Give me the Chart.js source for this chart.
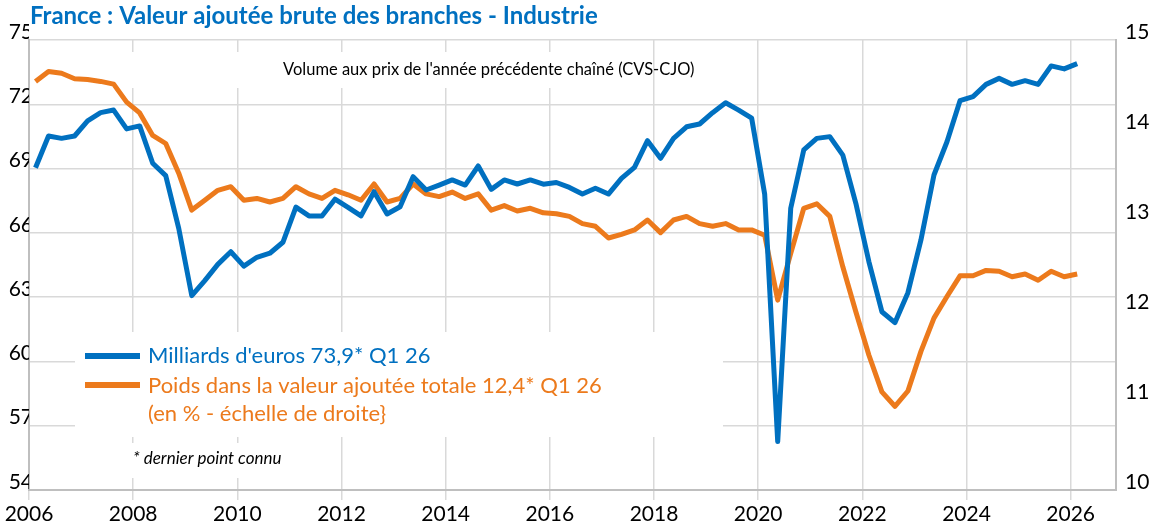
<!DOCTYPE html>
<html>
<head>
<meta charset="utf-8">
<script src="https://cdn.jsdelivr.net/npm/chart.js@4.4.1/dist/chart.umd.min.js"></script>
<style>
  body { margin: 0; background: #fff; }
  #wrap { width: 1165px; height: 530px; }
</style>
</head>
<body>
<div id="wrap"><canvas id="chart" width="1165" height="530"></canvas></div>
<script>
// quarterly series, 2006 Q1 -> 2026 Q1
const firstYear = 2006;

const milliards = [
  69.04, 70.52, 70.41, 70.52, 71.23, 71.61, 71.73, 70.85, 70.99, 69.25,
  68.67, 66.21, 63.07, 63.77, 64.53, 65.12, 64.45, 64.86, 65.05, 65.56,
  67.20, 66.79, 66.79, 67.57, 67.19, 66.79, 67.92, 66.88, 67.22, 68.62,
  68.00, 68.23, 68.47, 68.23, 69.12, 68.03, 68.47, 68.28, 68.47, 68.27,
  68.35, 68.12, 67.81, 68.08, 67.81, 68.54, 69.06, 70.30, 69.48, 70.41,
  70.95, 71.08, 71.61, 72.07, 71.73, 71.35, 67.80, 56.26, 67.15, 69.87,
  70.41, 70.49, 69.63, 67.38, 64.66, 62.32, 61.81, 63.21, 65.67, 68.70,
  70.25, 72.17, 72.36, 72.93, 73.21, 72.93, 73.10, 72.93, 73.79, 73.65,
  73.90
];

const poids = [
  14.54, 14.65, 14.63, 14.57, 14.56, 14.54, 14.51, 14.31, 14.19, 13.94,
  13.85, 13.52, 13.11, 13.22, 13.33, 13.37, 13.22, 13.24, 13.20, 13.24,
  13.37, 13.29, 13.24, 13.33, 13.28, 13.22, 13.40, 13.20, 13.24, 13.40,
  13.29, 13.26, 13.31, 13.24, 13.29, 13.11, 13.16, 13.10, 13.13, 13.08,
  13.07, 13.04, 12.96, 12.93, 12.80, 12.84, 12.89, 13.00, 12.86, 13.00,
  13.04, 12.96, 12.93, 12.96, 12.89, 12.89, 12.83, 12.11, 12.63, 13.13,
  13.18, 13.04, 12.48, 11.98, 11.50, 11.09, 10.93, 11.10, 11.54, 11.91,
  12.15, 12.38, 12.38, 12.44, 12.43, 12.37, 12.40, 12.33, 12.43, 12.37,
  12.40
];

const xTicks = [2006, 2008, 2010, 2012, 2014, 2016, 2018, 2020, 2022, 2024, 2026];
const leftTicks = [54, 57, 60, 63, 66, 69, 72, 75];
const rightTicks = [10, 11, 12, 13, 14, 15];

const BLUE = '#0070C0';
const ORANGE = '#EC7A1C';
const FONT = 'Lato, "Liberation Sans", sans-serif';

// each quarter sits in the middle of its three months
function toPoints(values) {
  return values.map((v, i) => ({ x: firstYear + (i + 0.5) / 4, y: v }));
}

const annotations = {
  id: 'annotations',
  beforeDatasetsDraw(chart) {
    const ctx = chart.ctx;
    ctx.save();
    ctx.fillStyle = '#fff';
    ctx.fillRect(120, 52, 480, 36);   // subtitle box
    ctx.fillRect(75, 332, 648, 105);  // legend box
    ctx.fillRect(125, 443, 175, 35);  // footnote box
    ctx.restore();
  },
  afterDatasetsDraw(chart) {
    const ctx = chart.ctx;
    ctx.save();
    ctx.textBaseline = 'middle';

    ctx.fillStyle = BLUE;
    ctx.font = 'bold 24px ' + FONT;
    ctx.fillText('France : Valeur ajoutée brute des branches - Industrie', 30, 16);

    ctx.fillStyle = '#000';
    ctx.font = '16.5px ' + FONT;
    ctx.fillText("Volume aux prix de l'année précédente chaîné (CVS-CJO)", 283, 70);

    ctx.font = 'italic 17px ' + FONT;
    ctx.fillText('* dernier point connu', 133, 459);

    ctx.lineWidth = 6;
    ctx.strokeStyle = BLUE;
    ctx.beginPath(); ctx.moveTo(85, 356); ctx.lineTo(140, 356); ctx.stroke();
    ctx.strokeStyle = ORANGE;
    ctx.beginPath(); ctx.moveTo(85, 385); ctx.lineTo(140, 385); ctx.stroke();

    ctx.font = '22px ' + FONT;
    ctx.fillStyle = BLUE;
    ctx.fillText("Milliards d'euros 73,9* Q1 26", 148, 356);
    ctx.fillStyle = ORANGE;
    ctx.fillText('Poids dans la valeur ajoutée totale 12,4* Q1 26', 148, 386);
    ctx.fillText('(en % - échelle de droite}', 148, 414);
    ctx.restore();
  }
};

new Chart(document.getElementById('chart'), {
  type: 'line',
  data: {
    datasets: [
      {
        label: "Milliards d'euros",
        data: toPoints(milliards),
        yAxisID: 'y',
        borderColor: BLUE,
        borderWidth: 5,
        pointRadius: 0,
        tension: 0,
        borderJoinStyle: 'round'
      },
      {
        label: 'Poids dans la valeur ajoutée totale',
        data: toPoints(poids),
        yAxisID: 'y1',
        borderColor: ORANGE,
        borderWidth: 5,
        pointRadius: 0,
        tension: 0,
        borderJoinStyle: 'round'
      }
    ]
  },
  options: {
    responsive: false,
    animation: false,
    layout: { padding: { top: 40, left: 0, right: 0, bottom: 0 } },
    plugins: {
      legend: { display: false },
      tooltip: { enabled: false }
    },
    scales: {
      x: {
        type: 'linear',
        min: 2006,
        max: 2026.87,
        grid: { color: '#d9d9d9', lineWidth: 1.5, tickLength: 10 },
        border: { color: '#bfbfbf', width: 2 },
        ticks: {
          color: '#000',
          font: { family: FONT, size: 21 },
          padding: 2,
          maxRotation: 0,
          callback: (v) => String(v)
        },
        afterBuildTicks: (scale) => { scale.ticks = xTicks.map(v => ({ value: v })); },
        afterFit: (scale) => { scale.height = 40; }
      },
      y: {
        position: 'left',
        min: 54,
        max: 75,
        grid: { color: '#d9d9d9', lineWidth: 1.5, drawTicks: false },
        border: { color: '#bfbfbf', width: 2 },
        ticks: {
          color: '#000',
          font: { family: FONT, size: 21 },
          padding: -4,
          labelOffset: -8
        },
        afterBuildTicks: (scale) => { scale.ticks = leftTicks.map(v => ({ value: v })); },
        afterFit: (scale) => { scale.width = 29; }
      },
      y1: {
        position: 'right',
        min: 10,
        max: 15,
        grid: { drawOnChartArea: false, drawTicks: false },
        border: { color: '#bfbfbf', width: 2 },
        ticks: {
          color: '#000',
          font: { family: FONT, size: 21 },
          padding: 9,
          labelOffset: -8
        },
        afterBuildTicks: (scale) => { scale.ticks = rightTicks.map(v => ({ value: v })); },
        afterFit: (scale) => { scale.width = 49; }
      }
    }
  },
  plugins: [annotations]
});
</script>
</body>
</html>
